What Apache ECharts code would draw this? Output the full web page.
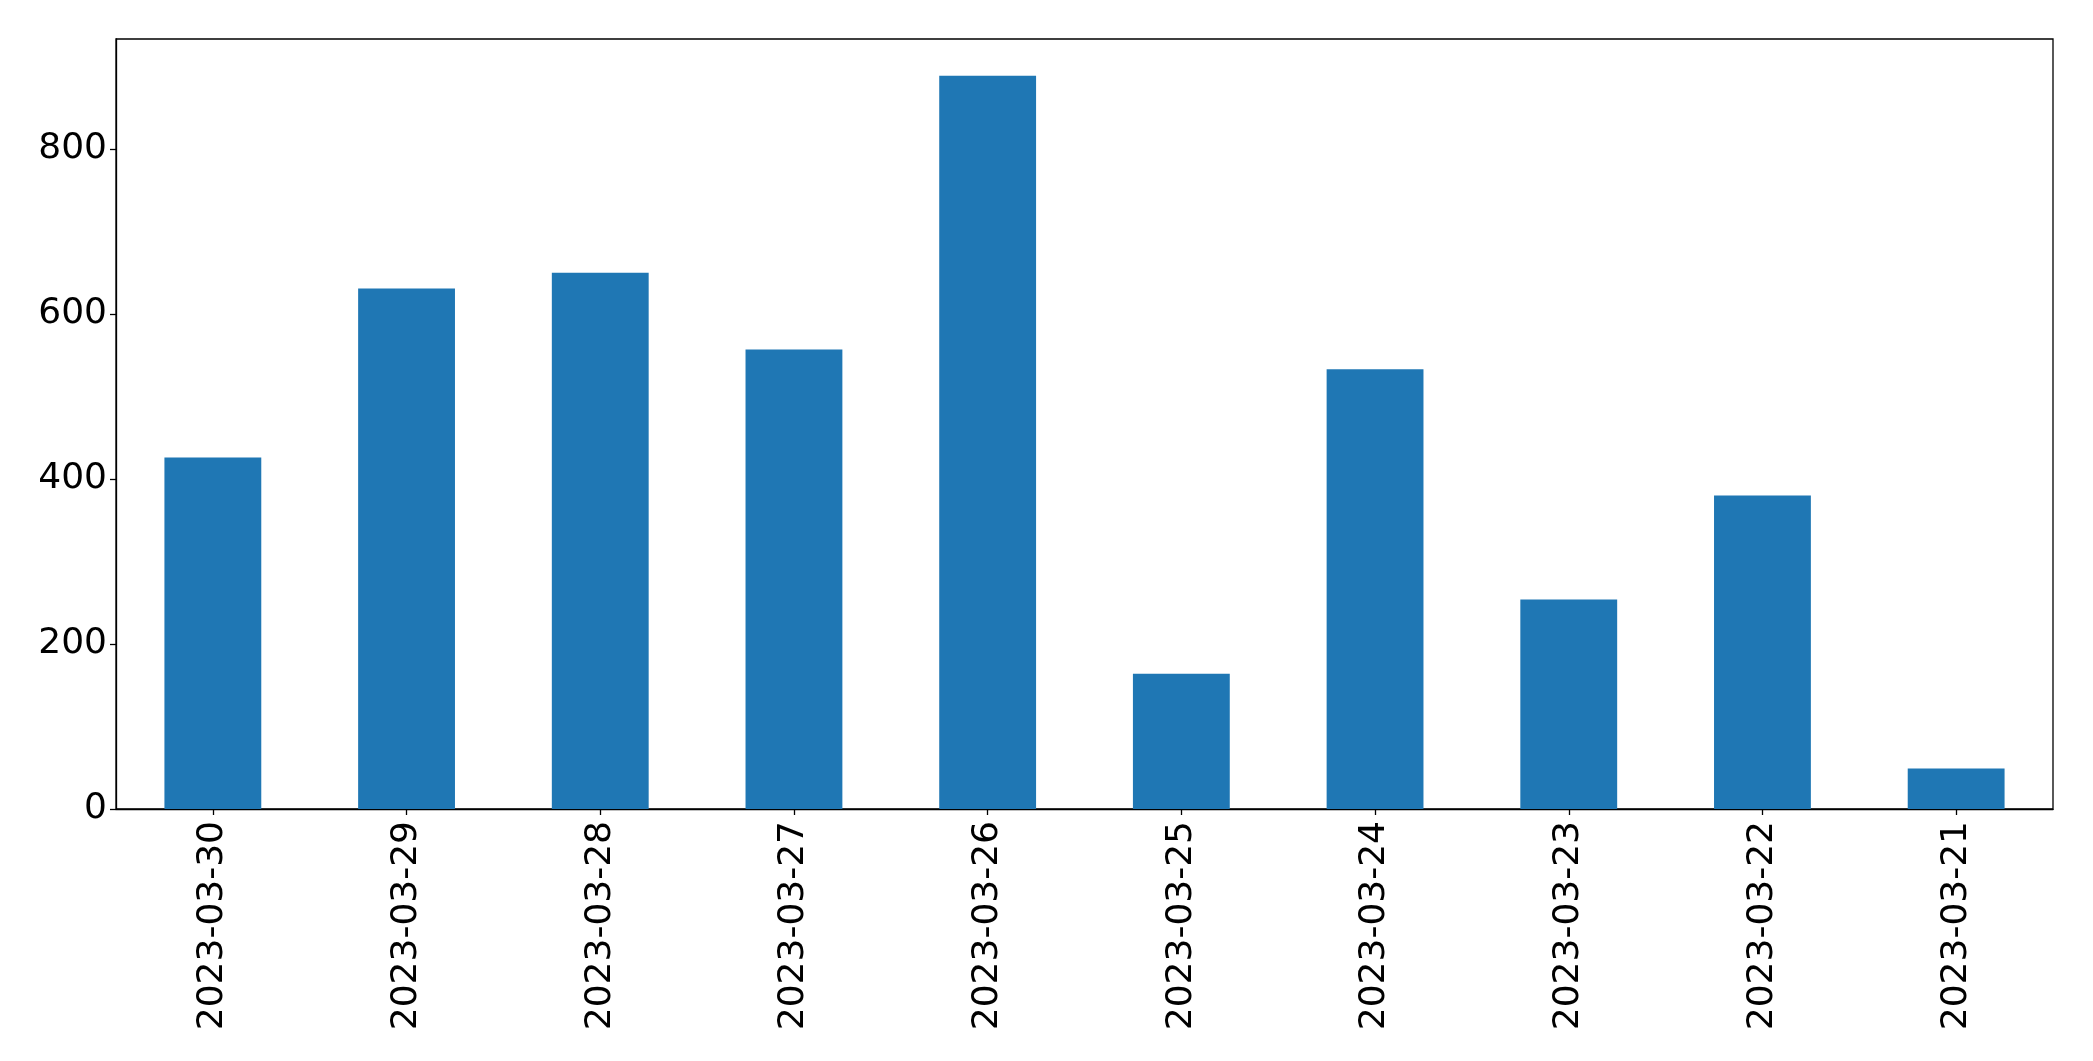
<!DOCTYPE html>
<html>
<head>
<meta charset="utf-8">
<script src="https://cdn.jsdelivr.net/npm/echarts@6/dist/echarts.min.js"></script>
<style>
html,body{margin:0;padding:0;background:#fff;}
#chart{width:2093px;height:1061px;}
</style>
</head>
<body>
<div id="chart"></div>
<script>
const categories = ["2023-03-30","2023-03-29","2023-03-28","2023-03-27","2023-03-26","2023-03-25","2023-03-24","2023-03-23","2023-03-22","2023-03-21"];
const values = [426, 631, 650, 557, 889, 164, 533, 254, 380, 49];
const yTicks = [0, 200, 400, 600, 800];
const yMax = 933.5;

const chart = echarts.init(document.getElementById('chart'), null, {renderer: 'canvas'});
const font = 'DejaVu Sans';
chart.setOption({
  animation: false,
  backgroundColor: '#ffffff',
  grid: {
    left: 116, right: 40, top: 39, bottom: 252,
    show: true, borderColor: '#000000', borderWidth: 1.3,
    backgroundColor: 'transparent', containLabel: false
  },
  xAxis: {
    type: 'category',
    data: categories,
    boundaryGap: true,
    axisLine: {show: true, lineStyle: {color: '#000', width: 1.3}},
    axisTick: {show: true, alignWithLabel: true, length: 6, lineStyle: {color: '#000', width: 1.3}},
    axisLabel: {rotate: 90, margin: 12, color: '#000', fontFamily: font, fontSize: 36, interval: 0},
    splitLine: {show: false}
  },
  yAxis: {
    type: 'value',
    min: 0, max: yMax,
    axisLine: {show: true, lineStyle: {color: '#000', width: 1.3}},
    axisTick: {show: true, length: 6, lineStyle: {color: '#000', width: 1.3}, customValues: yTicks},
    axisLabel: {margin: 9, color: '#000', fontFamily: font, fontSize: 36, padding: [6, 0, 0, 0], customValues: yTicks},
    splitLine: {show: false}
  },
  series: [{
    type: 'bar',
    data: values,
    barWidth: '50%',
    itemStyle: {color: '#1f77b4'}
  }]
});
</script>
</body>
</html>
